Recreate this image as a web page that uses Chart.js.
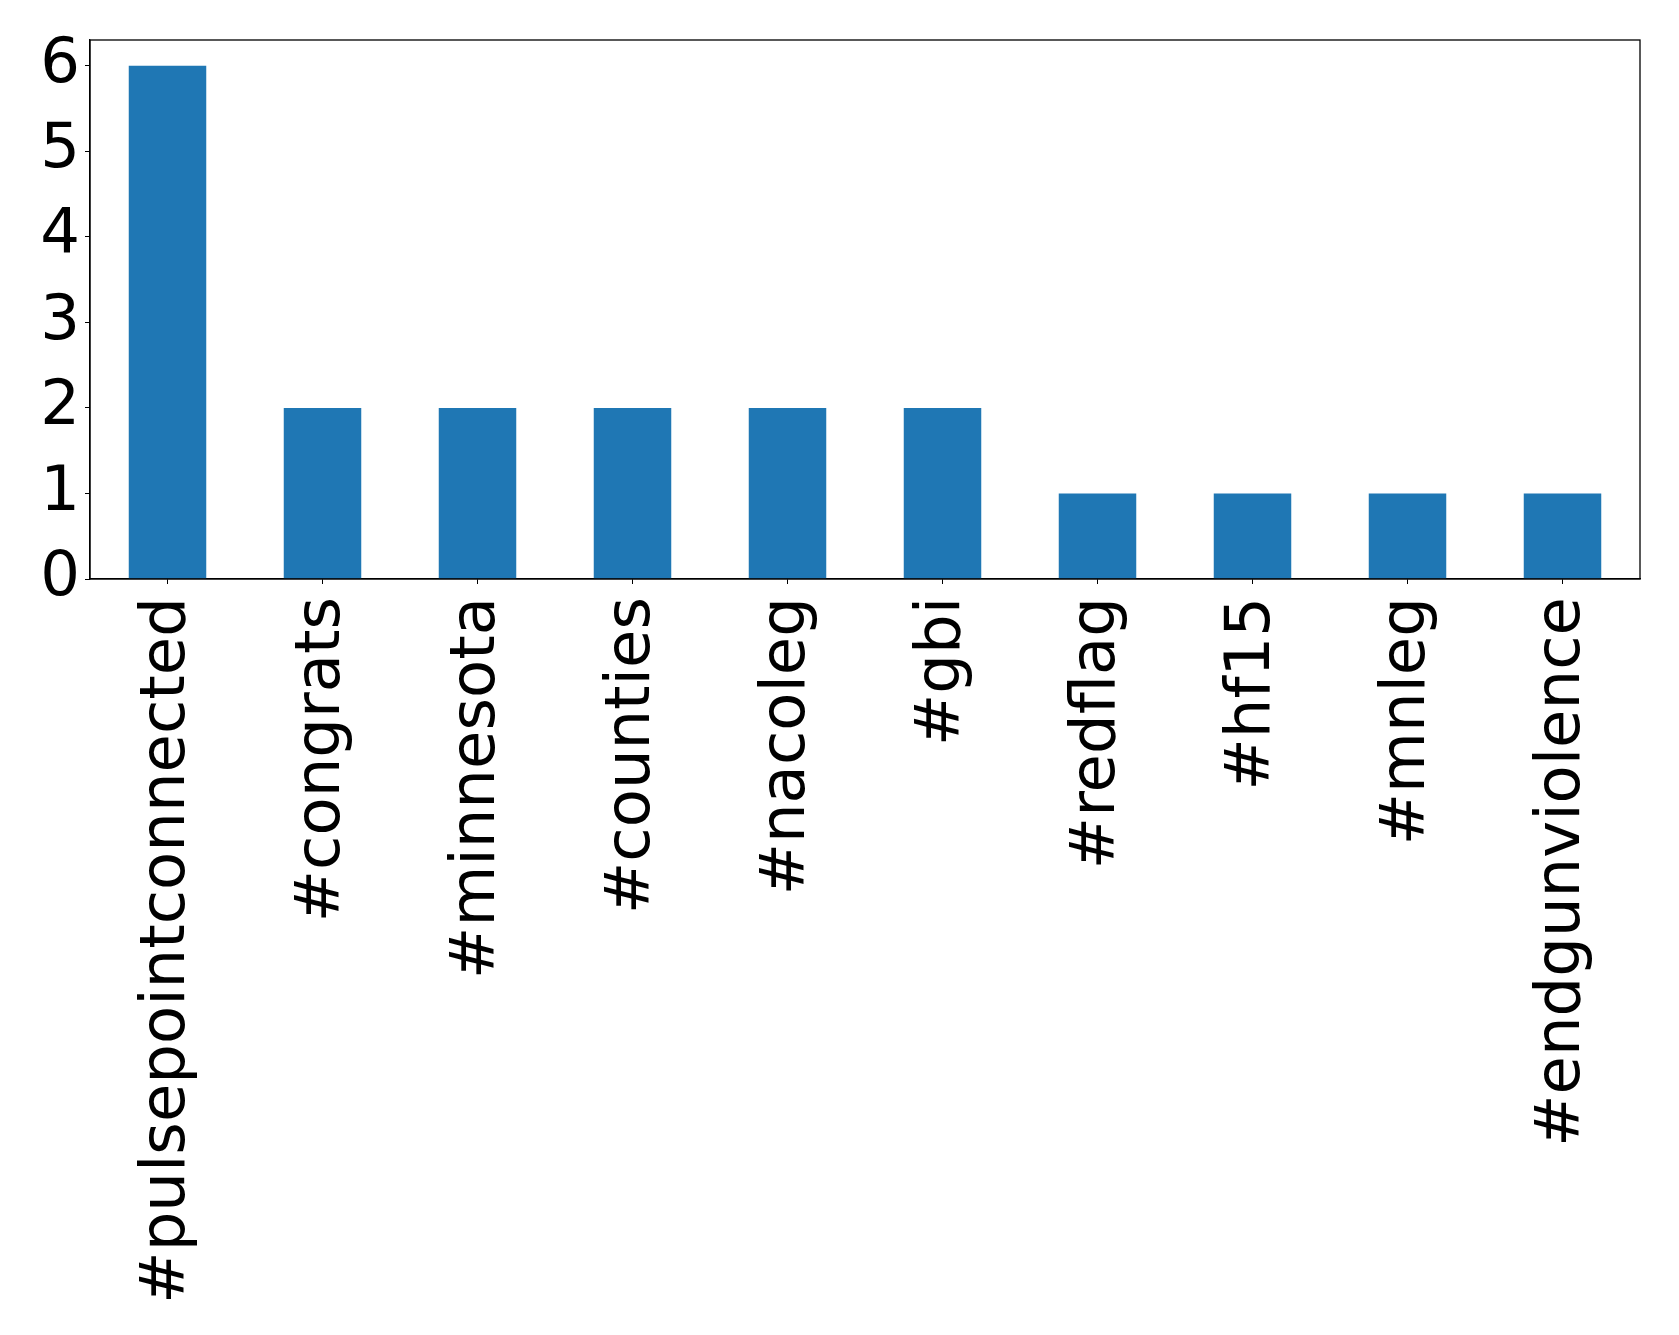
<!DOCTYPE html>
<html>
<head>
<meta charset="utf-8">
<script src="https://cdn.jsdelivr.net/npm/chart.js@4"></script>
<style>
  html, body { margin: 0; padding: 0; background: #fff; }
  canvas { display: block; }
</style>
</head>
<body>
<canvas id="tagChart" width="1679" height="1335"></canvas>
<script>
const hashtags = ['#pulsepointconnected', '#congrats', '#minnesota', '#counties', '#nacoleg',
                  '#gbi', '#redflag', '#hf15', '#mnleg', '#endgunviolence'];
const counts = [6, 2, 2, 2, 2, 2, 1, 1, 1, 1];
const yTicks = [0, 1, 2, 3, 4, 5, 6];

const font = { family: '"DejaVu Sans", sans-serif', size: 62.5 };

// box around the plot area, like the matplotlib axes frame
const frame = {
    id: 'frame',
    afterDraw(chart) {
        const { ctx, chartArea: a } = chart;
        ctx.save();
        ctx.strokeStyle = '#000';
        ctx.lineWidth = 1.3;
        ctx.strokeRect(a.left, a.top, a.right - a.left, a.bottom - a.top);
        ctx.restore();
    }
};

new Chart(document.getElementById('tagChart'), {
    type: 'bar',
    data: {
        labels: hashtags,
        datasets: [{
            data: counts,
            backgroundColor: '#1f77b4',
            categoryPercentage: 1,
            barPercentage: 0.5
        }]
    },
    options: {
        responsive: false,
        animation: false,
        layout: { padding: { top: 40, right: 39, left: 0, bottom: 0 } },
        plugins: { legend: { display: false }, tooltip: { enabled: false } },
        scales: {
            x: {
                grid: { offset: false, drawOnChartArea: false, drawTicks: true, tickLength: 5, tickColor: '#000' },
                border: { display: true, color: '#000', width: 1.3 },
                ticks: {
                    color: '#000', font, autoSkip: false,
                    minRotation: 90, maxRotation: 90, padding: 13
                },
                afterFit(scale) {
                    scale.height = 756;
                    scale.paddingLeft = 0;
                    scale.paddingRight = 0;
                }
            },
            y: {
                min: 0,
                max: 6.3,
                grid: { drawOnChartArea: false, drawTicks: true, tickLength: 5, tickColor: '#000' },
                border: { display: true, color: '#000', width: 1.3 },
                ticks: { color: '#000', font, padding: 5 },
                afterBuildTicks(scale) { scale.ticks = yTicks.map(v => ({ value: v })); },
                afterFit(scale) {
                    scale.width = 90;
                    scale.paddingTop = 0;
                    scale.paddingBottom = 0;
                }
            }
        }
    },
    plugins: [frame]
});
</script>
</body>
</html>
